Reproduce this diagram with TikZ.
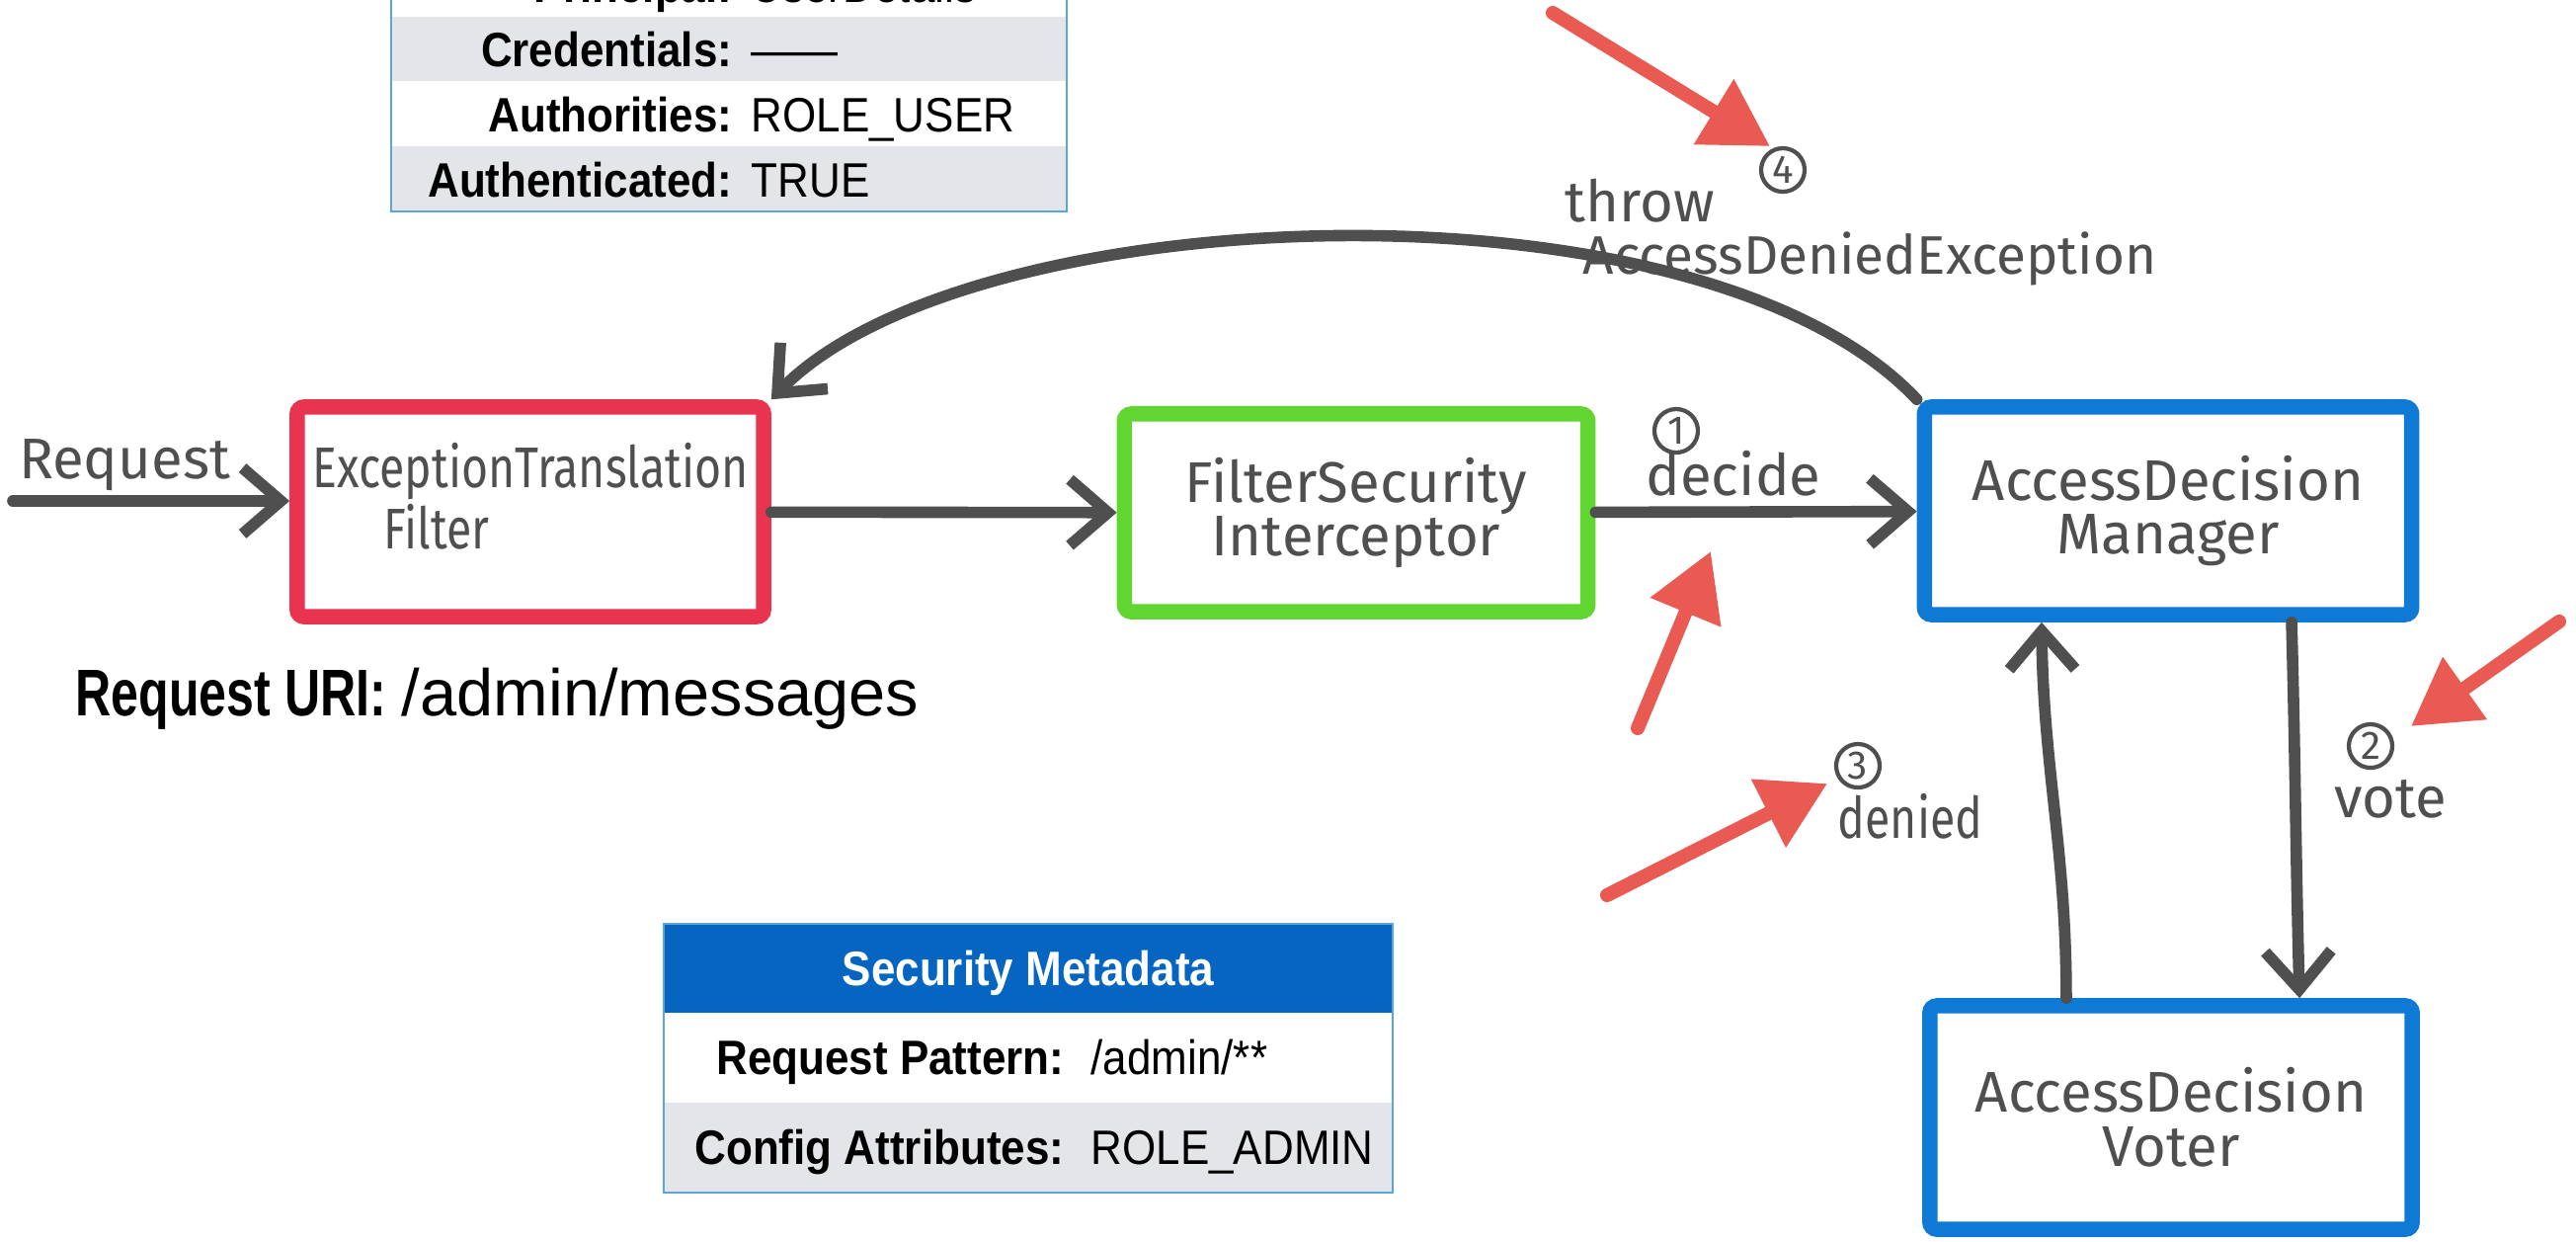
\documentclass[tikz,border=0pt]{standalone}
\usepackage{fontspec}
\setmainfont{Liberation Sans}
\newfontfamily\tabfont[FakeStretch=0.9]{Liberation Sans}
\newfontfamily\condfont[FakeStretch=0.75]{Liberation Sans}
\newfontfamily\handfont{Fira Sans}
\newfontfamily\handnarrow[FakeStretch=0.8]{Fira Sans}
\usetikzlibrary{arrows.meta,calc}

\definecolor{pencil}{HTML}{4F4F4F}
\definecolor{crayonred}{HTML}{E8344E}
\definecolor{crayongreen}{HTML}{62D630}
\definecolor{crayonblue}{HTML}{0F7AD6}
\definecolor{marker}{HTML}{E85A52}
\definecolor{tablehead}{HTML}{0565C0}
\definecolor{tablerow}{HTML}{E4E5E9}
\definecolor{tableline}{HTML}{5AA6D6}

\tikzset{
  sketchbox/.style={draw=#1, line width=4.4pt, rounded corners=2pt, inner sep=0pt,
    align=center, text=pencil, font=\handfont\fontsize{16.5}{15.6}\selectfont},
  flow/.style={draw=pencil, line width=3.3pt, line cap=round,
    -{Straight Barb[length=11pt,width=19pt]}},
  handnote/.style={text=pencil, inner sep=0pt, font=\handfont\fontsize{16.5}{17.6}\selectfont},
  stepno/.style={circle, draw=pencil, line width=1.2pt, inner sep=0pt, minimum size=0.44cm,
    text=pencil, font=\handfont\fontsize{11.5}{11.5}\selectfont},
  pointer/.style={draw=marker, fill=marker, line width=4pt, line cap=round,
    -{Triangle[length=19pt,width=21pt]}},
  cellkey/.style={anchor=base east, inner sep=0pt, font=\tabfont\bfseries\fontsize{13.9}{14}\selectfont},
  cellvalue/.style={anchor=base west, inner sep=0pt, font=\tabfont\fontsize{13.9}{14}\selectfont},
  tableframe/.style={draw=tableline, line width=0.7pt},
}

\begin{document}
\begin{tikzpicture}[x=0.01cm,y=-0.01cm]
\clip (0,0) rectangle (2608,1256);
\fill[white] (0,0) rectangle (2608,1256);

% authentication object
\fill[white] (396,-60) rectangle (1080,17);
\fill[tablerow] (396,17) rectangle (1080,82);
\fill[white] (396,82) rectangle (1080,148);
\fill[tablerow] (396,148) rectangle (1080,214);
\draw[tableframe] (396,-60) rectangle (1080,214);
\node[cellkey] (principalkey) at (742,2) {Principal:};
\node[cellvalue] (principalval) at (760,2) {UserDetails};
\node[cellkey] (credkey) at (742,67) {Credentials:};
\node[cellvalue] (credval) at (760,67) {——};
\node[cellkey] (authkey) at (742,133) {Authorities:};
\node[cellvalue] (authval) at (760,133) {ROLE\_USER};
\node[cellkey] (isauthkey) at (742,199) {Authenticated:};
\node[cellvalue] (isauthval) at (760,199) {TRUE};

% requested resource
\node[anchor=base west, inner sep=0pt, font=\condfont\bfseries\fontsize{19}{20}\selectfont]
  (urikey) at (76,724) {Request URI:};
\node[anchor=base west, inner sep=0pt, font=\fontsize{19}{20}\selectfont]
  (urival) at (406,724) {/admin/messages};

% security metadata
\fill[tablehead] (672,935) rectangle (1410,1025);
\fill[white] (672,1025) rectangle (1410,1116);
\fill[tablerow] (672,1116) rectangle (1410,1207);
\draw[tableframe] (672,935) rectangle (1410,1207);
\node[anchor=base, inner sep=0pt, text=white, font=\tabfont\bfseries\fontsize{13.9}{14}\selectfont]
  (metahead) at (1041,997) {Security Metadata};
\node[cellkey] (patternkey) at (1078,1087) {Request Pattern:};
\node[cellvalue] (patternval) at (1104,1087) {/admin/**};
\node[cellkey] (attrkey) at (1078,1178) {Config Attributes:};
\node[cellvalue] (attrval) at (1104,1178) {ROLE\_ADMIN};

% components
\node[sketchbox=crayonred, minimum width=4.72cm, minimum height=2.12cm, align=left,
  font=\handnarrow\fontsize{16.5}{17.6}\selectfont]
  (etf) at (537,518) {ExceptionTranslation\\\hspace*{0.72cm}Filter\\[-0.3cm]};
\node[sketchbox=crayongreen, minimum width=4.69cm, minimum height=2.00cm]
  (fsi) at (1373,519) {FilterSecurity\\Interceptor};
\node[sketchbox=crayonblue, minimum width=4.93cm, minimum height=2.10cm]
  (adm) at (2195,517) {AccessDecision\\Manager};
\node[sketchbox=crayonblue, minimum width=4.88cm, minimum height=2.26cm]
  (adv) at (2198,1131) {AccessDecision\\Voter};

% flow
\coordinate (reqstart) at (13,507);
\draw[flow] (reqstart) -- (reqstart -| etf.west);
\draw[flow] (etf) -- (fsi);
\draw[flow] (fsi) -- (adm);
\draw[flow] (adm.north west) .. controls (1720,170) and (980,200) .. (etf.north east);
\draw[flow] ([xshift=1.25cm]adm.south) .. controls +(0.04cm,-1.5cm) and +(-0.04cm,1.5cm) .. ([xshift=1.30cm]adv.north);
\draw[flow] ([xshift=-1.06cm]adv.north) .. controls +(0,1.5cm) and +(0.02cm,-1.5cm) .. ([xshift=-1.28cm]adm.south);

% flow labels
\node[handnote] (reqlabel) at (126,471) {Request};
\node[stepno] (n1) at (1697,436) {1};
\node[handnote] (decidelabel) at (1755,479) {decide};
\node[stepno] (n4) at (1805,172) {4};
\node[handnote] (throwlabel) at (1660,203) {throw};
\node[handnote, font=\handfont\fontsize{15.6}{16}\selectfont] (adelabel) at (1893,262) {AccessDeniedException};
\node[stepno] (n3) at (1881,775) {3};
\node[handnote, font=\handnarrow\fontsize{16.5}{17}\selectfont] (deniedlabel) at (1934,826) {denied};
\node[stepno] (n2) at (2400,755) {2};
\node[handnote] (votelabel) at (2420,809) {vote};

% highlight pointers
\coordinate (ptAa) at (1572,13);   \coordinate (ptAb) at (1792,148);
\coordinate (ptBa) at (1658,737);  \coordinate (ptBb) at (1732,558);
\coordinate (ptCa) at (1627,906);  \coordinate (ptCb) at (1850,793);
\coordinate (ptDa) at (2591,629);  \coordinate (ptDb) at (2441,735);
\draw[pointer] (ptAa) -- (ptAb);
\draw[pointer] (ptBa) -- (ptBb);
\draw[pointer] (ptCa) -- (ptCb);
\draw[pointer] (ptDa) -- (ptDb);
\end{tikzpicture}
\end{document}
